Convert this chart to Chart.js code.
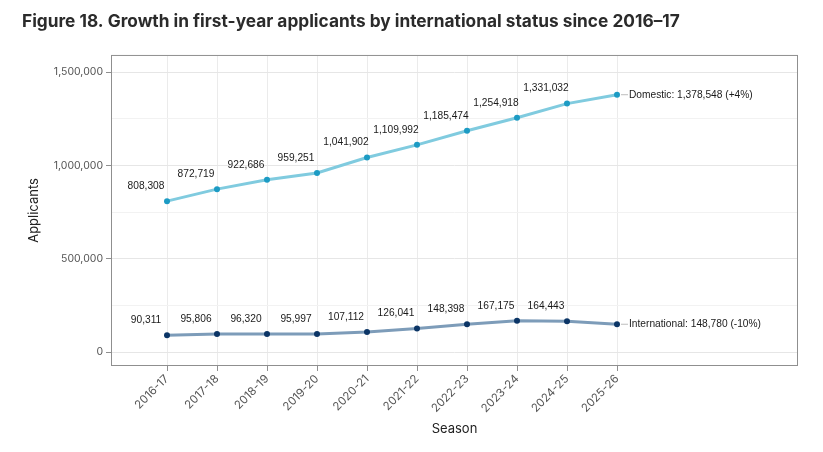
<!DOCTYPE html>
<html>
<head>
<meta charset="utf-8">
<script src="https://cdn.jsdelivr.net/npm/chart.js@4.4.1/dist/chart.umd.min.js"></script>
<style>
  html, body { margin: 0; padding: 0; background: #fff; }
  #wrap { width: 823px; height: 452px; position: relative; }
</style>
</head>
<body>
<div id="wrap"><canvas id="chart"></canvas></div>
<script>
const seasons = ["2016-17", "2017-18", "2018-19", "2019-20", "2020-21", "2021-22", "2022-23", "2023-24", "2024-25", "2025-26"];
const domestic = [808308, 872719, 922686, 959251, 1041902, 1109992, 1185474, 1254918, 1331032, 1378548];
const international = [90311, 95806, 96320, 95997, 107112, 126041, 148398, 167175, 164443, 148780];
const endLabels = ["Domestic: 1,378,548 (+4%)", "International: 148,780 (-10%)"];
const yTicks = [0, 250000, 500000, 750000, 1000000, 1250000, 1500000];

const tickFont = "Inter, 'Open Sans', sans-serif";
const labelFont = "'Liberation Sans', Arial, sans-serif";

function fmt(v) {
  return v.toLocaleString("en-US");
}

const ctx = document.getElementById("chart").getContext("2d");

// bordure du panneau + étiquettes des points
const labelsPlugin = {
  id: "pointLabels",
  beforeDatasetsDraw(chart) {
    const a = chart.chartArea;
    const c = chart.ctx;
    c.save();
    c.strokeStyle = "#8f8f8f";
    c.lineWidth = 1;
    c.strokeRect(a.left + 0.5, a.top + 0.5, a.right - a.left - 1, a.bottom - a.top - 1);
    c.restore();
  },
  afterDatasetsDraw(chart) {
    const c = chart.ctx;
    c.save();
    c.font = "10.2px " + labelFont;
    c.fillStyle = "#1a1a1a";
    chart.data.datasets.forEach((ds, di) => {
      const meta = chart.getDatasetMeta(di);
      meta.data.forEach((pt, i) => {
        const last = i === meta.data.length - 1;
        if (!last) {
          c.textAlign = "center";
          c.textBaseline = "middle";
          c.fillText(fmt(ds.data[i].y), pt.x - 21, pt.y - 15);
        } else {
          c.strokeStyle = "#bdbdbd";
          c.lineWidth = 1;
          c.beginPath();
          c.moveTo(pt.x + 4, pt.y);
          c.lineTo(pt.x + 11, pt.y);
          c.stroke();
          c.textAlign = "left";
          c.textBaseline = "middle";
          c.fillText(endLabels[di], pt.x + 12, pt.y);
        }
      });
    });
    c.restore();
  }
};

const data = {
  datasets: [
    {
      label: "Domestic",
      data: domestic.map((v, i) => ({ x: i, y: v })),
      borderColor: "#80cbdf",
      backgroundColor: "#1c9bc4",
      pointBackgroundColor: "#1c9bc4",
      pointBorderWidth: 0,
      pointRadius: 3,
      borderWidth: 3,
      tension: 0
    },
    {
      label: "International",
      data: international.map((v, i) => ({ x: i, y: v })),
      borderColor: "#7d9cb9",
      backgroundColor: "#0b3566",
      pointBackgroundColor: "#0b3566",
      pointBorderWidth: 0,
      pointRadius: 3,
      borderWidth: 3,
      tension: 0
    }
  ]
};

const config = {
  type: "line",
  data: data,
  options: {
    responsive: true,
    maintainAspectRatio: false,
    animation: false,
    layout: { padding: { left: 22, right: 25, top: 0, bottom: 12 } },
    plugins: {
      legend: { display: false },
      tooltip: { enabled: false },
      title: {
        display: true,
        text: "Figure 18. Growth in first-year applicants by international status since 2016\u201317",
        align: "start",
        color: "#2b2b2b",
        font: { family: tickFont, size: 17.3, weight: "bold", lineHeight: 1.2 },
        padding: { top: 11, bottom: 23.2 }
      }
    },
    scales: {
      x: {
        type: "linear",
        min: -1.12,
        max: 12.62,
        afterBuildTicks(scale) {
          scale.ticks = seasons.map((s, i) => ({ value: i }));
        },
        afterFit(scale) {
          scale.height = 452 - 366 - 12;
        },
        ticks: {
          autoSkip: false,
          maxRotation: 45,
          minRotation: 45,
          padding: 1,
          color: "#555",
          font: { family: tickFont, size: 11.5 },
          callback: (v) => seasons[v]
        },
        grid: {
          color: "#ebebeb",
          lineWidth: 1,
          tickLength: 5,
          tickColor: "#8f8f8f"
        },
        border: { display: false },
        title: {
          display: true,
          text: "Season",
          color: "#222",
          font: { family: tickFont, size: 13 },
          padding: { top: 4, bottom: 3 }
        }
      },
      y: {
        type: "linear",
        min: -75000,
        max: 1591667,
        afterBuildTicks(scale) {
          scale.ticks = yTicks.map((v) => ({ value: v }));
        },
        afterFit(scale) {
          scale.width = 111 - 22;
        },
        ticks: {
          padding: 3,
          color: "#555",
          font: { family: tickFont, size: 10.5 },
          callback: (v) => (v % 500000 === 0 ? fmt(v) : "")
        },
        grid: {
          color: (c) => (c.tick && c.tick.value % 500000 === 0 ? "#e6e6e6" : "#f2f2f2"),
          lineWidth: 1,
          tickLength: 5,
          tickColor: (c) => (c.tick && c.tick.value % 500000 === 0 ? "#8f8f8f" : "rgba(0,0,0,0)")
        },
        border: { display: false },
        title: {
          display: true,
          text: "Applicants",
          color: "#222",
          font: { family: tickFont, size: 13 },
          padding: { top: 4, bottom: 4 }
        }
      }
    }
  },
  plugins: [labelsPlugin]
};

const chart = new Chart(ctx, config);
</script>
</body>
</html>
